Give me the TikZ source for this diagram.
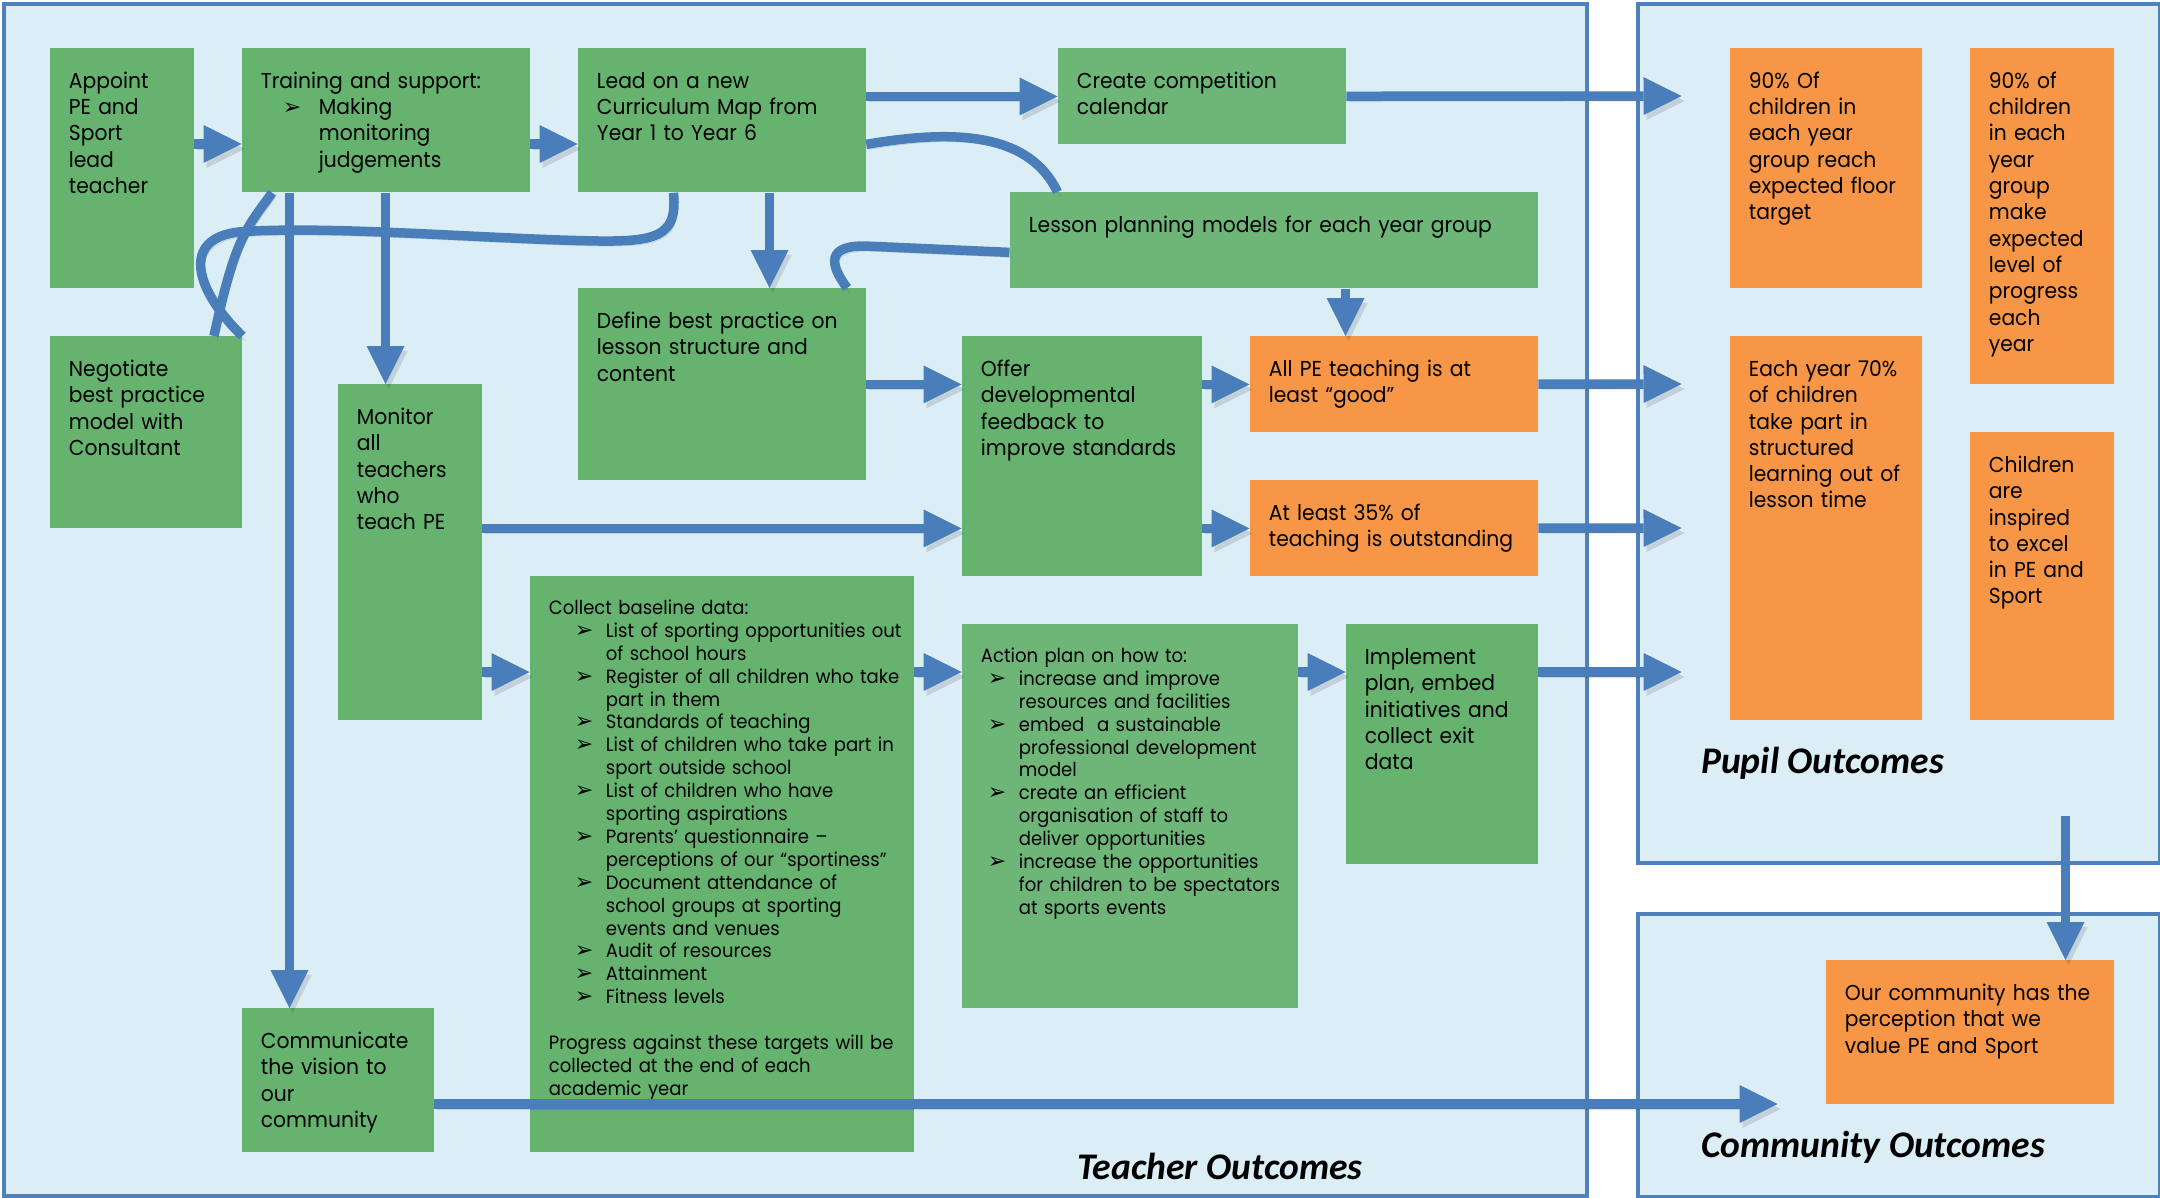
\documentclass[tikz,border=0pt]{standalone}
\usepackage{fontspec}
\setmainfont{Poppins}[FakeStretch=0.94]
\newfontfamily\tipfont{DejaVu Sans}
\newfontfamily\titlefont{Carlito}
\usetikzlibrary{calc, arrows.meta}
\definecolor{boxgreen}{HTML}{66B36F}
\definecolor{lightgreen}{HTML}{6DB678}
\definecolor{boxorange}{HTML}{F79646}
\definecolor{panelfill}{HTML}{DCEEF5}
\definecolor{panelblue}{HTML}{4F81BD}
\definecolor{flowblue}{HTML}{4A7EBB}
\newlength{\bulin}
\newlength{\bultx}
\newcommand{\bul}{\hspace*{\bulin}\makebox[\dimexpr\bultx-\bulin\relax][l]{\tipfont\fontsize{11}{11}\selectfont ➢}}
\newcommand{\cnt}{\hspace*{\bultx}}
\tikzset{
  font=\fontsize{10.8}{13.15}\selectfont,
  box/.style={anchor=north west, align=left, inner xsep=0pt, inner ysep=6pt, text height=14pt,
    execute at begin node={\leftskip=9.5pt\rightskip=0pt plus 1fil minus 40pt\relax}},
  gbox/.style={box, fill=boxgreen},
  lgbox/.style={box, fill=lightgreen},
  obox/.style={box, fill=boxorange},
  small/.style={font=\fontsize{9.6}{11.45}\selectfont, text height=13pt},
  panel/.style={draw=panelblue, line width=2pt, fill=panelfill, anchor=north west, inner sep=0pt},
  outtitle/.style={anchor=west, inner sep=0pt, font=\titlefont\bfseries\itshape\fontsize{18.8}{20}\selectfont},
  link/.style={draw=flowblue, line width=4.75pt,
    preaction={draw=black, opacity=0.12, transform canvas={shift={(1.5pt,-2.5pt)}}}},
  flow/.style={link, -{Triangle[length=19pt, width=19pt, line width=0pt]}}
}

\begin{document}
\begin{tikzpicture}[x=24pt, y=-24pt]
    \useasboundingbox (-0.03125,0) rectangle (44.96875,24.9583);
    \node[panel, minimum width=791.5pt, minimum height=596pt] (teacherpanel) at (0.02,0.04) {};
    \node[panel, minimum width=261pt, minimum height=429.6pt] (pupilpanel) at (34.05,0.04) {};
    \node[panel, minimum width=261pt, minimum height=141.6pt] (communitypanel) at (34.05,19) {};

    \node[gbox, text width=72pt, text depth=94pt] (appoint) at (1,1) {Appoint\\PE and\\Sport\\lead\\teacher};
    \node[gbox, text width=144pt, text depth=46pt] (training) at (5,1) {\setlength{\bulin}{11pt}\setlength{\bultx}{29pt}Training and support:\\ \bul Making\\ \cnt monitoring\\ \cnt judgements};
    \node[gbox, text width=144pt, text depth=46pt] (leadmap) at (12,1) {Lead on a new\\Curriculum Map from\\Year 1 to Year 6};
    \node[lgbox, text width=144pt, text depth=22pt] (competition) at (22,1) {Create competition\\calendar};
    \node[lgbox, text width=264pt, text depth=22pt] (lessonplan) at (21,4) {Lesson planning models for each year group};
    \node[gbox, text width=96pt, text depth=70pt] (negotiate) at (1,7) {Negotiate\\best practice\\model with\\Consultant};
    \node[gbox, text width=144pt, text depth=70pt] (bestpractice) at (12,6) {Define best practice on\\lesson structure and\\content};
    \node[gbox, text width=72pt, text depth=142pt] (monitor) at (7,8) {Monitor\\all\\teachers\\who\\teach PE};
    \node[gbox, text width=120pt, text depth=94pt] (feedback) at (20,7) {Offer\\developmental\\feedback to\\improve standards};
    \node[obox, text width=144pt, text depth=22pt] (goodteach) at (26,7) {All PE teaching is at\\least “good”};
    \node[obox, text width=144pt, text depth=22pt] (outstanding) at (26,10) {At least 35\% of\\teaching is outstanding};
    \node[gbox, small, text width=192pt, text depth=263pt] (baseline) at (11,12) {\setlength{\bulin}{13pt}\setlength{\bultx}{28.5pt}Collect baseline data:\\
      \bul List of sporting opportunities out\\ \cnt of school hours\\
      \bul Register of all children who take\\ \cnt part in them\\
      \bul Standards of teaching\\
      \bul List of children who take part in\\ \cnt sport outside school\\
      \bul List of children who have\\ \cnt sporting aspirations\\
      \bul Parents’ questionnaire –\\ \cnt perceptions of our “sportiness”\\
      \bul Document attendance of\\ \cnt school groups at sporting\\ \cnt events and venues\\
      \bul Audit of resources\\
      \bul Attainment\\
      \bul Fitness levels\\[11.45pt]
      Progress against these targets will be\\collected at the end of each\\academic year};
    \node[lgbox, small, text width=168pt, text depth=167pt] (actionplan) at (20,13) {\setlength{\bulin}{3.5pt}\setlength{\bultx}{19pt}Action plan on how to:\\
      \bul increase and improve\\ \cnt resources and facilities\\
      \bul embed\ \ a sustainable\\ \cnt professional development\\ \cnt model\\
      \bul create an efficient\\ \cnt organisation of staff to\\ \cnt deliver opportunities\\
      \bul increase the opportunities\\ \cnt for children to be spectators\\ \cnt at sports events};
    \node[gbox, text width=96pt, text depth=94pt] (implement) at (28,13) {Implement\\plan, embed\\initiatives and\\collect exit\\data};
    \node[gbox, text width=96pt, text depth=46pt] (communicate) at (5,21) {Communicate\\the vision to\\our\\community};

    \node[obox, text width=96pt, text depth=94pt] (floortarget) at (36,1) {90\% Of\\children in\\each year\\group reach\\expected floor\\target};
    \node[obox, text width=72pt, text depth=142pt] (progress) at (41,1) {90\% of\\children\\in each\\year\\group\\make\\expected\\level of\\progress\\each\\year};
    \node[obox, text width=96pt, text depth=166pt] (structured) at (36,7) {Each year 70\%\\of children\\take part in\\structured\\learning out of\\lesson time};
    \node[obox, text width=72pt, text depth=118pt] (inspired) at (41,9) {Children\\are\\inspired\\to excel\\in PE and\\Sport};
    \node[obox, text width=144pt, text depth=46pt] (perception) at (38,20) {Our community has the\\perception that we\\value PE and Sport};

    \node[outtitle] (pupiltitle) at (35.4,15.9) {Pupil Outcomes};
    \node[outtitle] (teachertitle) at (22.4,24.3) {Teacher Outcomes};
    \node[outtitle] (communitytitle) at (35.4,23.9) {Community Outcomes};

    \coordinate (r3) at (0,3);
    \coordinate (r14) at (0,14);
    \coordinate (c6) at (6,0);
    \coordinate (c8) at (8,0);
    \coordinate (c16) at (16,0);
    \coordinate (c28) at (28,0);
    \coordinate (pupilA) at (35,2);
    \coordinate (pupilB) at (35,8);
    \coordinate (pupilC) at (35,11);
    \coordinate (pupilD) at (35,14);
    \coordinate (commin) at (37,23);
    \coordinate (pupilout) at (43,17);

    \draw[link] ($(leadmap.south west)+(2,0)$) .. controls (14.1,5.07) and (13.51,5.06) .. (11.63,5) .. controls (9.34,4.92) and (6.64,4.71) .. (4.97,4.83) .. controls (3.72,4.96) and (4.03,6.04) .. (negotiate.north east);
    \draw[link] ($(training.south west)+(0.64,0)$) .. controls (5.07,4.79) and (4.86,5) .. ($(negotiate.north east)+(-0.59,0)$);
    \draw[link] ($(leadmap.east)+(0,0.5)$) .. controls (19.97,2.67) and (21.43,2.81) .. ($(lessonplan.north west)+(1,0)$);
    \draw[link] ($(lessonplan.west)+(0,0.25)$) -- (18.09,5.13) .. controls (17.15,5.08) and (17.26,5.52) .. ($(bestpractice.north east)+(-0.4,0)$);

    \draw[flow] (appoint.east |- r3) -- (training.west |- r3);
    \draw[flow] (training.east |- r3) -- (leadmap.west |- r3);
    \draw[flow] (leadmap.east |- competition) -- (competition);
    \draw[flow] (competition) -- (pupilA);
    \draw[flow] (c16 |- leadmap.south) -- (c16 |- bestpractice.north);
    \draw[flow] (c28 |- lessonplan.south) -- (c28 |- goodteach.north);
    \draw[flow] (bestpractice) -- (feedback.west |- bestpractice);
    \draw[flow] (feedback.east |- goodteach) -- (goodteach);
    \draw[flow] (goodteach) -- (pupilB);
    \draw[flow] (monitor.east |- outstanding) -- (feedback.west |- outstanding);
    \draw[flow] (feedback.east |- outstanding) -- (outstanding);
    \draw[flow] (outstanding) -- (pupilC);
    \draw[flow] (monitor.east |- r14) -- (baseline.west |- r14);
    \draw[flow] (baseline.east |- r14) -- (actionplan.west |- r14);
    \draw[flow] (actionplan.east |- r14) -- (implement.west |- r14);
    \draw[flow] (implement.east |- pupilD) -- (pupilD);
    \draw[flow] (c8 |- training.south) -- (c8 |- monitor.north);
    \draw[flow] (c6 |- training.south) -- (c6 |- communicate.north);
    \draw[flow] (communicate.east |- commin) -- (commin);
    \draw[flow] (pupilout) -- (pupilout |- perception.north);
\end{tikzpicture}
\end{document}
